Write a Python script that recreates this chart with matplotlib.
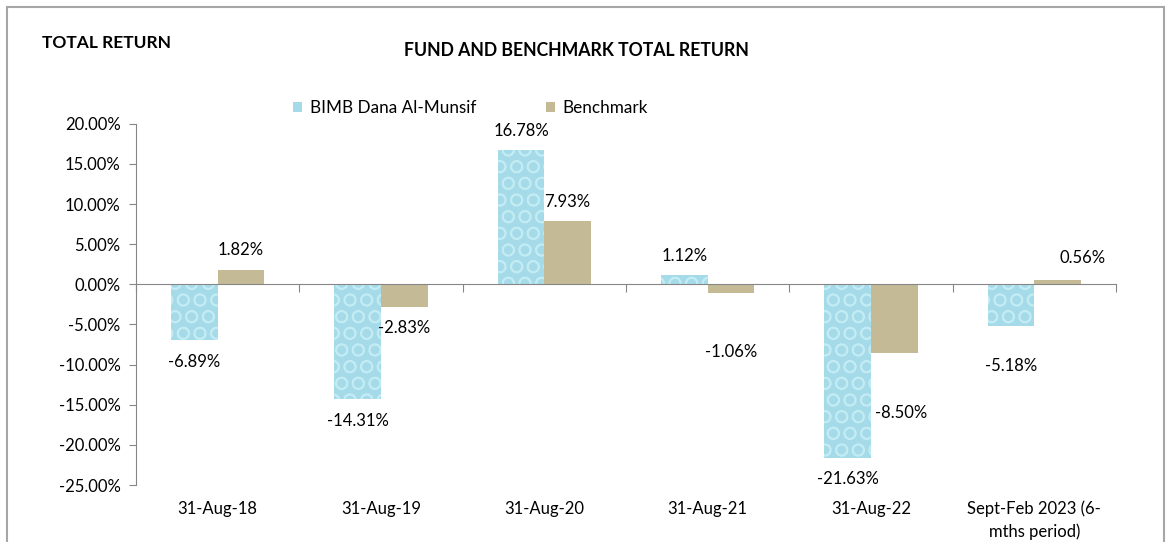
import matplotlib
matplotlib.use("Agg")
import matplotlib.pyplot as plt
import numpy as np
from matplotlib.patches import Rectangle, Patch
from matplotlib.ticker import FuncFormatter, FixedLocator
import matplotlib.transforms as mtransforms

plt.rcParams['font.family'] = ['Lato', 'DejaVu Sans']

categories = ["31-Aug-18", "31-Aug-19", "31-Aug-20", "31-Aug-21", "31-Aug-22",
              "Sept-Feb 2023 (6-\nmths period)"]
fund = [-6.89, -14.31, 16.78, 1.12, -21.63, -5.18]
benchmark = [1.82, -2.83, 7.93, -1.06, -8.50, 0.56]
series_names = ["BIMB Dana Al-Munsif", "Benchmark"]
yticks = [20, 15, 10, 5, 0, -5, -10, -15, -20, -25]

W, H = 1171, 542
fig = plt.figure(figsize=(W / 100, H / 100), dpi=100)

# chart border
fig.patches.append(Rectangle((7 / W, -0.05), (1164 - 7) / W, 1.05 - 7 / H,
                             transform=fig.transFigure, fill=False,
                             edgecolor='#a6a6a6', linewidth=1.5))

ax = fig.add_axes([136 / W, 1 - 485 / H, (1116 - 136) / W, (485 - 123.8) / H])

x = np.arange(len(categories))
bw = 0.285
fund_color = '#a5dbe8'
bench_color = '#c4bb96'
with plt.rc_context({'hatch.linewidth': 1.2}):
    b1 = ax.bar(x - bw / 2, fund, bw, color=fund_color, hatch='O',
                edgecolor='#c2ebf4', linewidth=0, zorder=2)
b2 = ax.bar(x + bw / 2, benchmark, bw, color=bench_color, linewidth=0, zorder=2)

ax.set_xlim(-0.5, len(categories) - 0.5)
ax.set_ylim(-25, 20)

axis_col = '#868686'
for s in ['top', 'right']:
    ax.spines[s].set_visible(False)
ax.spines['left'].set_color(axis_col)
ax.spines['bottom'].set_color(axis_col)
ax.spines['bottom'].set_position(('data', 0))
ax.spines['bottom'].set_zorder(3)

ax.yaxis.set_major_locator(FixedLocator(yticks))
ax.yaxis.set_major_formatter(FuncFormatter(lambda v, p: f"{v:.2f}%"))
ax.tick_params(axis='y', colors=axis_col, labelcolor='#000000', labelsize=12,
               length=5, pad=6)

ax.xaxis.set_major_locator(FixedLocator(list(np.arange(len(categories) + 1) - 0.5)))
ax.tick_params(axis='x', colors=axis_col, length=6, direction='out', labelbottom=False)

trans = mtransforms.blended_transform_factory(ax.transData, ax.transAxes)
for xi, lab in zip(x, categories):
    ax.text(xi, -0.043, lab, transform=trans, ha='center', va='top',
            fontsize=12, linespacing=1.45)

# data labels (offsets in pixels)
fund_off = [(0, -22), (0, -22), (0, 19), (0, 19), (0, -21), (0, -40)]
bench_off = [(0, 20), (0, -21), (0, 19), (0, -59), (7, -60), (25, 22)]
for vals, offs, xs in [(fund, fund_off, x - bw / 2), (benchmark, bench_off, x + bw / 2)]:
    for xi, v, (dx, dy) in zip(xs, vals, offs):
        ax.annotate(f"{v:.2f}%", (xi, v), xytext=(dx, dy), textcoords='offset pixels',
                    ha='center', va='center', fontsize=12, zorder=4)

fig.text(42 / W, 1 - 43 / H, "TOTAL RETURN", fontsize=12.5, fontweight='bold',
         ha='left', va='center')
fig.text(576 / W, 1 - 51 / H, "FUND AND BENCHMARK TOTAL RETURN", fontsize=12.7,
         fontweight='bold', ha='center', va='center')

handles = [Patch(facecolor=fund_color, edgecolor='none'),
           Patch(facecolor=bench_color, edgecolor='none')]
fig.legend(handles, series_names, loc='center left', bbox_to_anchor=(293 / W, 1 - 108 / H),
           ncol=2, frameon=False, fontsize=12.3, handlelength=0.55, handleheight=0.55,
           handletextpad=0.45, columnspacing=4.05, borderpad=0, borderaxespad=0)

fig.savefig("out.png", dpi=100)
